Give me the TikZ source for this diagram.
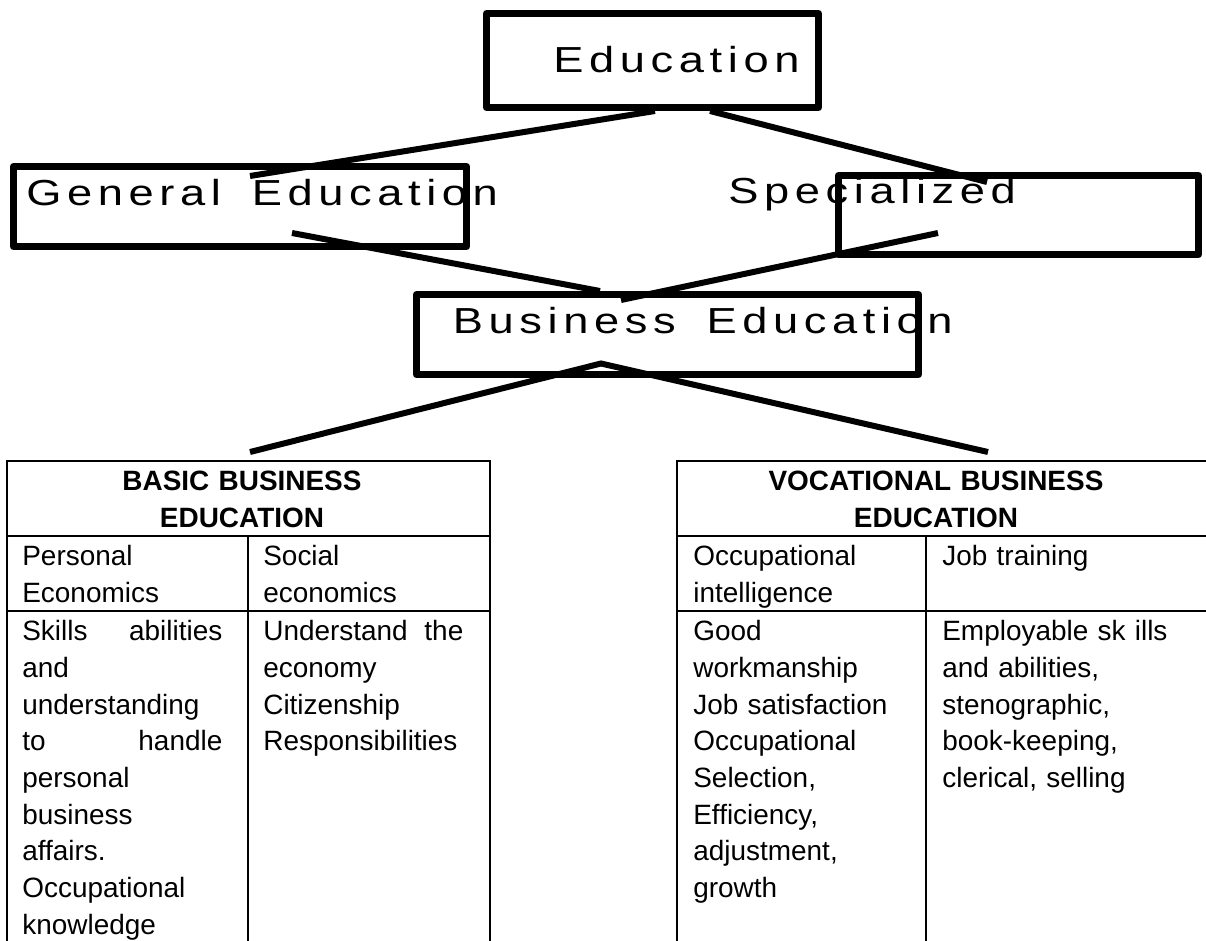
\documentclass[tikz,border=0pt]{standalone}
\usepackage{fontspec}
\setmainfont{Liberation Sans}

\begin{document}
\begin{tikzpicture}[
    box/.style={draw, line width=0.14cm, line join=round, inner sep=0pt},
    boxlbl/.style={inner sep=0pt, anchor=base west,
      font={\fontsize{20.6}{24}\selectfont
            \addfontfeature{FakeStretch=1.25, LetterSpace=15.5}}},
    link/.style={line width=0.12cm},
    rule/.style={line width=0.04cm},
    head/.style={inner sep=0pt, anchor=north, text width=8cm, align=center,
      execute at begin node=\strut,
      font={\fontsize{15.9}{20.9}\selectfont\bfseries}},
    cell/.style={inner sep=0pt, anchor=north west, text width=4.0cm,
      align=left, execute at begin node=\strut,
      font={\fontsize{15.9}{20.9}\selectfont}}]

  \useasboundingbox (0,0) rectangle (24.12,-18.82);

  % ---- the four boxes ----
  \node[box, minimum width=6.64cm, minimum height=1.88cm] (edu)
      at (13.05,-1.21) {};
  \node[box, minimum width=9.06cm, minimum height=1.60cm] (gen)
      at (4.80,-4.13) {};
  \node[box, minimum width=7.20cm, minimum height=1.58cm] (spec)
      at (20.37,-4.30) {};
  \node[box, minimum width=10.04cm, minimum height=1.60cm] (bus)
      at (13.35,-6.69) {};

  % ---- their labels, wide and spaced out, not centred ----
  % (the word space gets the same extra tracking as the letters)
  \node[boxlbl] (edu-txt)  at (11.06,-1.46) {Education};
  \node[boxlbl] (gen-txt)  at (0.52,-4.10)  {General \kern0.35em Education};
  \node[boxlbl] (spec-txt) at (14.56,-4.06) {Specialized};
  \node[boxlbl] (bus-txt)  at (9.05,-6.66)  {Business \kern0.35em Education};

  % ---- connector ends ----
  \coordinate (edu-l)    at (13.10,-2.22);
  \coordinate (edu-r)    at (14.20,-2.22);
  \coordinate (gen-in)   at (5.00,-3.52);
  \coordinate (spec-in)  at (19.74,-3.64);
  \coordinate (gen-out)  at (5.84,-4.66);
  \coordinate (spec-out) at (18.76,-4.66);
  \coordinate (bus-inl)  at (12.00,-5.82);
  \coordinate (bus-inr)  at (12.42,-6.00);
  \coordinate (bus-out)  at (12.02,-7.27);
  \coordinate (basic-in) at (5.00,-9.04);
  \coordinate (voc-in)   at (19.76,-9.04);

  \draw[link] (edu-l) -- (gen-in);
  \draw[link] (edu-r) -- (spec-in);
  \draw[link] (gen-out) -- (bus-inl);
  \draw[link] (spec-out) -- (bus-inr);
  \draw[link] (basic-in) -- (bus-out) -- (voc-in);

  % ---- left table: basic business education ----
  \draw[rule] (0.14,-18.82) -- (0.14,-9.22) -- (9.80,-9.22) -- (9.80,-18.82);
  \draw[rule] (0.14,-10.72) -- (9.80,-10.72);
  \draw[rule] (0.14,-12.22) -- (9.80,-12.22);
  \draw[rule] (4.96,-10.72) -- (4.96,-18.82);

  \node[head] (basic-head) at (4.84,-9.29) {BASIC BUSINESS\\EDUCATION};
  \node[cell] (personal) at (0.44,-10.79) {Personal\\Economics};
  \node[cell] (social)   at (5.26,-10.79) {Social\\economics};
  \node[cell] (personal-aims) at (0.44,-12.29)
      {Skills\hfill abilities\\and\\understanding\\to\hfill handle\\personal\\
       business\\affairs.\\Occupational\\knowledge};
  \node[cell] (social-aims) at (5.26,-12.29)
      {Understand\hfill the\\economy\\Citizenship\\Responsibilities};

  % ---- right table: vocational business education ----
  \draw[rule] (13.54,-18.82) -- (13.54,-9.22) -- (24.20,-9.22);
  \draw[rule] (13.54,-10.72) -- (24.20,-10.72);
  \draw[rule] (13.54,-12.22) -- (24.20,-12.22);
  \draw[rule] (18.52,-10.72) -- (18.52,-18.82);

  \node[head] (voc-head) at (18.72,-9.29) {VOCATIONAL BUSINESS\\EDUCATION};
  \node[cell] (occ) at (13.86,-10.79) {Occupational\\intelligence};
  \node[cell] (job) at (18.84,-10.79) {Job training};
  \node[cell] (occ-aims) at (13.86,-12.29)
      {Good\\workmanship\\Job satisfaction\\Occupational\\Selection,\\
       Efficiency,\\adjustment,\\growth};
  \node[cell, text width=5.0cm] (job-aims) at (18.84,-12.29)
      {Employable sk ills\\and abilities,\\stenographic,\\book-keeping,\\
       clerical, selling};

\end{tikzpicture}
\end{document}
